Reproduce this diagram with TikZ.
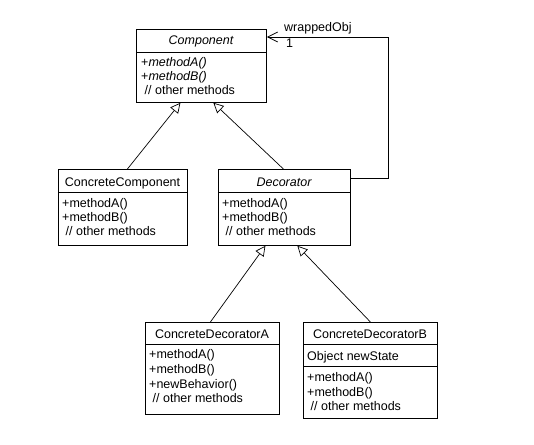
\documentclass[tikz,border=0pt]{standalone}
\usepackage{fontspec}
\setmainfont{Liberation Sans}
\usetikzlibrary{arrows.meta}
\begin{document}
\begin{tikzpicture}[x=1pt,y=-1pt,
  box/.style={draw, line width=0.8pt, inner sep=0pt, anchor=north west},
  divider/.style={line width=0.8pt},
  title/.style={anchor=base, inner sep=0pt, font=\fontsize{12.5}{14}\selectfont},
  member/.style={anchor=base west, inner sep=0pt, font=\fontsize{12.5}{14}\selectfont},
  inherit/.style={draw, line width=0.7pt, -{Triangle[open, length=10pt, width=10pt]}},
  assoc/.style={draw, line width=0.8pt, -{Straight Barb[length=10pt, width=10pt]}}]
\useasboundingbox (0,0) rectangle (534,444);
\fill[white] (0,0) rectangle (534,444);

% Component
\node[box, minimum width=130pt, minimum height=73pt] (comp) at (136,29) {};
\draw[divider] ([yshift=-23pt]comp.north west) -- ([yshift=-23pt]comp.north east);
\node[title] (compT) at (201,45) {\itshape Component};
\node[member] (compM1) at (141,66) {+\textit{methodA()}};
\node[member] (compM2) at (141,80) {+\textit{methodB()}};
\node[member] (compM3) at (141,94) {\ // other methods};

% ConcreteComponent
\node[box, minimum width=129pt, minimum height=76pt] (cc) at (58,169) {};
\draw[divider] ([yshift=-23pt]cc.north west) -- ([yshift=-23pt]cc.north east);
\node[title] (ccT) at (122.5,186) {ConcreteComponent};
\node[member] (ccM1) at (62,207) {+methodA()};
\node[member] (ccM2) at (62,221) {+methodB()};
\node[member] (ccM3) at (62,235) {\ // other methods};

% Decorator
\node[box, minimum width=132pt, minimum height=76pt] (dec) at (218,169) {};
\draw[divider] ([yshift=-23pt]dec.north west) -- ([yshift=-23pt]dec.north east);
\node[title] (decT) at (284,186) {\itshape Decorator};
\node[member] (decM1) at (222,207) {+methodA()};
\node[member] (decM2) at (222,221) {+methodB()};
\node[member] (decM3) at (222,235) {\ // other methods};

% ConcreteDecoratorA
\node[box, minimum width=134pt, minimum height=92pt] (cda) at (145,322) {};
\draw[divider] ([yshift=-22pt]cda.north west) -- ([yshift=-22pt]cda.north east);
\node[title] (cdaT) at (212,338) {ConcreteDecoratorA};
\node[member] (cdaM1) at (149,358) {+methodA()};
\node[member] (cdaM2) at (149,373) {+methodB()};
\node[member] (cdaM3) at (149,388) {+newBehavior()};
\node[member] (cdaM4) at (149,402) {\ // other methods};

% ConcreteDecoratorB
\node[box, minimum width=134pt, minimum height=96pt] (cdb) at (303,322) {};
\draw[divider] ([yshift=-22pt]cdb.north west) -- ([yshift=-22pt]cdb.north east);
\draw[divider] ([yshift=-44pt]cdb.north west) -- ([yshift=-44pt]cdb.north east);
\node[title] (cdbT) at (370,338) {ConcreteDecoratorB};
\node[member] (cdbA) at (307,360) {Object newState};
\node[member] (cdbM1) at (307,381) {+methodA()};
\node[member] (cdbM2) at (307,396) {+methodB()};
\node[member] (cdbM3) at (307,410) {\ // other methods};

% Inheritance
\draw[inherit] ([xshift=4.5pt]cc.north) -- ([xshift=-21pt]comp.south);
\draw[inherit] ([xshift=-1pt]dec.north) -- ([xshift=12pt]comp.south);
\draw[inherit] ([xshift=-2pt]cda.north) -- ([xshift=-19pt]dec.south);
\draw[inherit] (cdb.north) -- ([xshift=13pt]dec.south);

% Association
\coordinate (wrapB) at (388,37);
\draw[assoc] ([yshift=-9pt]dec.north east) -| (wrapB) -- ([yshift=-8pt]comp.north east);
\node[member] (lblW) at (284,32) {wrappedObj};
\node[member] (lbl1) at (286,48) {1};
\end{tikzpicture}
\end{document}
